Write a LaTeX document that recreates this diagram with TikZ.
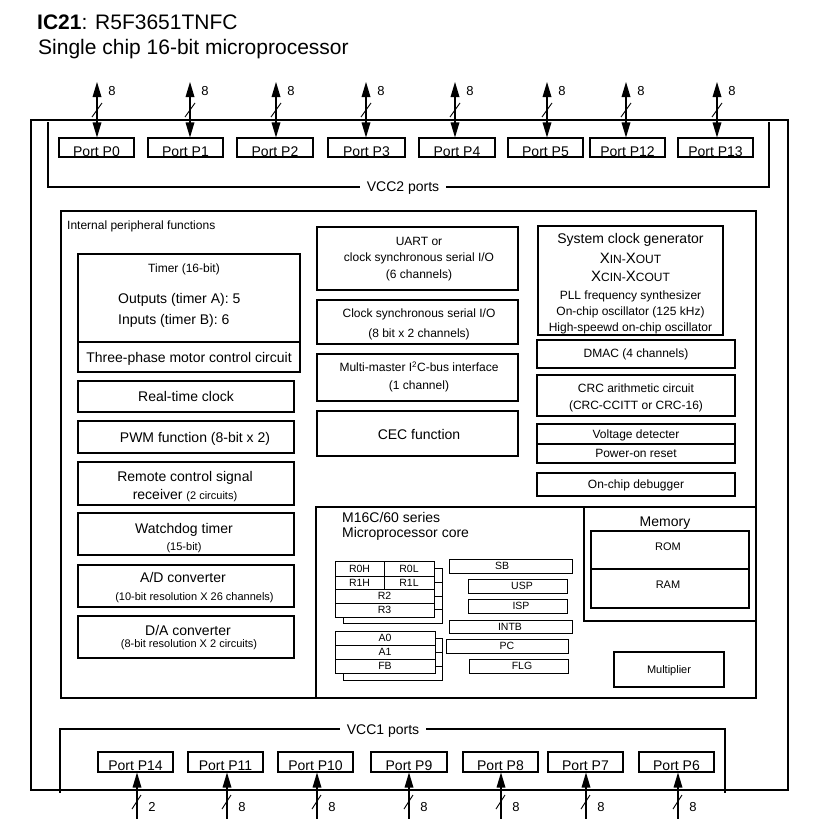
\documentclass[tikz,border=0pt]{standalone}
\usepackage{fontspec}
\setmainfont{Liberation Sans}
\newcommand{\bx}[7][]{\node[box,minimum width={(#5)-(#3)},minimum height={(#6)-(#4)},#1] (#2) at ({((#3)+(#5))/2},{((#4)+(#6))/2}) {#7};}
\newcommand{\smcx}[1]{{\fontsize{12}{14}\selectfont #1}}
\begin{document}
\begin{tikzpicture}[x=1pt,y=-1pt,
  box/.style={draw,line width=1.1pt,inner sep=0pt,fill=white},
  rbox/.style={draw,line width=0.9pt,inner sep=0pt,fill=white},
  frame/.style={line width=1.1pt},
  t14/.style={font=\fontsize{14}{17}\selectfont,inner sep=0pt,text height=10pt,text depth=0pt},
  t13/.style={font=\fontsize{13}{16}\selectfont,inner sep=0pt,text height=9.3pt,text depth=0pt},
  t12/.style={font=\fontsize{12}{15}\selectfont,inner sep=0pt,text height=8.6pt,text depth=0pt},
  t11/.style={font=\fontsize{11}{13}\selectfont,inner sep=0pt,text height=7.9pt,text depth=0pt},
  t10/.style={font=\fontsize{10.5}{12}\selectfont,inner sep=0pt,text height=7.5pt,text depth=0pt},
  shaft/.style={line width=2pt},
  head/.style={fill=black},
  slash/.style={line width=0.9pt}]
\useasboundingbox (0,0) rectangle (828,819);
\fill[white] (0,0) rectangle (828,819);

% title
\node[anchor=base west,inner sep=0pt,font=\fontsize{21}{25}\selectfont] (title) at (37,29) {\textbf{IC21}: R5F3651TNFC};
\node[anchor=base west,inner sep=0pt,font=\fontsize{21}{25}\selectfont] (subtitle) at (38,54.5) {Single chip 16-bit microprocessor};

% outer frame
\draw[line width=2.5pt] (31,120) rectangle (788,790);

% VCC2 frame
\draw[frame] (48,122) -- (48,187) -- (769,187) -- (769,122);
\node[t14,fill=white,inner xsep=7pt] (vcc2) at (403,186.5) {VCC2 ports};

% VCC1 frame
\draw[frame] (60,793) -- (60,729) -- (725,729) -- (725,793);
\node[t14,fill=white,inner xsep=7pt] (vcc1) at (383,729) {VCC1 ports};

% top ports
\foreach \pn/\pa/\pb/\px in {0/59/134/97, 1/148/223/190, 2/237/313/276, 3/328/405/366, 4/419/495/455, 5/508/583/547, 12/590/665/626, 13/678/753/717}{
  \bx{tp\pn}{\pa}{138}{\pb}{157}{}
  \node[t14] (tpt\pn) at ({(\pa+\pb)/2},151.3) {Port P\pn};
  \coordinate (ta\pn) at (\px,82);
  \draw[shaft,shorten <=8pt,shorten >=8pt] (ta\pn) -- (ta\pn |- tp\pn.north);
  \fill[head] (ta\pn) -- ++(-4.5,15) -- ++(9,0) -- cycle;
  \fill[head] (ta\pn |- tp\pn.north) -- ++(-4.5,-15) -- ++(9,0) -- cycle;
  \draw[slash] ({\px-5},117) -- ({\px+5},103);
  \node[t13] (tl\pn) at ({\px+15},91) {8};
}

% bottom ports
\foreach \pn/\pa/\pb/\px/\pw in {14/98/173/137/2, 11/188/263/227/8, 10/278/353/317/8, 9/371/447/409/8, 8/463/538/501/8, 7/548/623/586/8, 6/639/714/678/8}{
  \bx{bp\pn}{\pa}{752}{\pb}{772}{}
  \node[t14] (bpt\pn) at ({(\pa+\pb)/2},765) {Port P\pn};
  \coordinate (ba\pn) at (\px,819);
  \draw[shaft,shorten >=8pt] (ba\pn) -- (ba\pn |- bp\pn.south);
  \fill[head] (ba\pn |- bp\pn.south) -- ++(-4.5,15) -- ++(9,0) -- cycle;
  \draw[slash] ({\px-5},809) -- ({\px+4},795);
  \node[t13] (bl\pn) at ({\px+15},806.7) {\pw};
}

% internal peripheral frame
\draw[frame] (61,211) rectangle (756,698);
\node[t12,anchor=west] (ipf) at (67,225.5) {Internal peripheral functions};

% left column
\bx{timer}{78}{254}{300}{372}{}
\draw[frame] (78,342) -- (300,342);
\node[t12] (timert) at (184,268.5) {Timer (16-bit)};
\node[t14,anchor=west] (outt) at (118,298) {Outputs (timer A): 5};
\node[t14,anchor=west] (inpt) at (118,319) {Inputs (timer B): 6};
\node[t14] (three) at (189,357) {Three-phase motor control circuit};

\bx{rtc}{78}{381}{294}{412}{}
\node[t14] (rtct) at (186,396.5) {Real-time clock};
\bx{pwm}{78}{421}{294}{453}{}
\node[t14] (pwmt) at (195,437) {PWM function (8-bit x 2)};
\bx{remote}{78}{462}{294}{505}{}
\node[t14] (remt1) at (185,476) {Remote control signal};
\node[t14] (remt2) at (185,494) {receiver {\fontsize{11}{13}\selectfont (2 circuits)}};
\bx{wdt}{78}{513}{294}{555}{}
\node[t14] (wdt1) at (184,528) {Watchdog timer};
\node[t11] (wdt2) at (184,546.5) {(15-bit)};
\bx{adc}{78}{565}{294}{607}{}
\node[t14] (adc1) at (183,577) {A/D converter};
\node[t11] (adc2) at (194.5,597) {(10-bit resolution X 26 channels)};
\bx{dac}{78}{616}{294}{658}{}
\node[t14] (dac1) at (188,630) {D/A converter};
\node[t11] (dac2) at (189,644) {(8-bit resolution X 2 circuits)};

% middle column
\bx{uart}{317}{227}{518}{290}{}
\node[t12] (uart1) at (419,241.5) {UART or};
\node[t12] (uart2) at (419,257) {clock synchronous serial I/O};
\node[t12] (uart3) at (419,274.5) {(6 channels)};
\bx{csio}{317}{300}{518}{344}{}
\node[t12] (csio1) at (419,313) {Clock synchronous serial I/O};
\node[t12] (csio2) at (419,333) {(8 bit x 2 channels)};
\bx{iic}{317}{354}{518}{401}{}
\node[t12] (iic1) at (419,367.5) {Multi-master I\textsuperscript{2}C-bus interface};
\node[t12] (iic2) at (419,385) {(1 channel)};
\bx{cec}{317}{411}{518}{456}{}
\node[t14] (cect) at (419,434) {CEC function};

% right column
\bx{sysclk}{538}{226}{723}{335}{}
\node[t14] (sc1) at (630.5,238.5) {System clock generator};
\node[t12] (sc2) at (630.5,259) {{\fontsize{15}{17}\selectfont X}\smcx{IN}-{\fontsize{15}{17}\selectfont X}\smcx{OUT}};
\node[t12] (sc3) at (630.5,277) {{\fontsize{15}{17}\selectfont X}\smcx{CIN}-{\fontsize{15}{17}\selectfont X}\smcx{COUT}};
\node[t12] (sc4) at (630.5,295) {PLL frequency synthesizer};
\node[t12] (sc5) at (630.5,311) {On-chip oscillator (125 kHz)};
\node[t12] (sc6) at (630.5,327) {High-speewd on-chip oscillator};
\bx{dmac}{537}{340}{735}{368}{}
\node[t12] (dmact) at (636,353.5) {DMAC (4 channels)};
\bx{crc}{537}{375}{735}{416}{}
\node[t12] (crc1) at (636,388.5) {CRC arithmetic circuit};
\node[t12] (crc2) at (636,405.5) {(CRC-CCITT or CRC-16)};
\bx{vdet}{537}{424}{735}{463}{}
\draw[frame] (537,444) -- (735,444);
\node[t12] (vdet1) at (636,434.5) {Voltage detecter};
\node[t12] (vdet2) at (636,453.5) {Power-on reset};
\bx{ocd}{537}{473}{735}{496}{}
\node[t12] (ocdt) at (636,484.5) {On-chip debugger};

% processor core
\draw[frame] (316,698) -- (316,507) -- (756,507);
\node[t14,anchor=west] (core1) at (342,517) {M16C/60 series};
\node[t14,anchor=west] (core2) at (342,532) {Microprocessor core};

% memory
\bx{mem}{584}{507}{756}{621}{}
\node[t14] (memt) at (665,521) {Memory};
\bx{romram}{591}{531}{749}{608}{}
\draw[frame] (591,569) -- (749,569);
\node[t11] (rom) at (668,547) {ROM};
\node[t11] (ram) at (668,585) {RAM};
\bx{mult}{614}{652}{724}{687}{}
\node[t11] (multt) at (669,669.5) {Multiplier};

% register bank 1
\draw[line width=0.9pt] (343,568) rectangle (442,623);
\foreach \yy in {582,596,609} \draw[line width=0.9pt] (434,\yy) -- (442,\yy);
\bx[rbox]{regs}{335}{561}{434}{617}{}
\draw[line width=0.9pt] (335,576) -- (434,576);
\draw[line width=0.9pt] (335,589) -- (434,589);
\draw[line width=0.9pt] (335,603) -- (434,603);
\draw[line width=0.9pt] (384,561) -- (384,589);
\node[t10] (r0h) at (359.5,568.5) {R0H};
\node[t10] (r0l) at (409,568.5) {R0L};
\node[t10] (r1h) at (359.5,582.5) {R1H};
\node[t10] (r1l) at (409,582.5) {R1L};
\node[t10] (r2) at (384.5,596) {R2};
\node[t10] (r3) at (384.5,610) {R3};

% register bank 2
\draw[line width=0.9pt] (343,638) rectangle (442,680);
\foreach \yy in {652,666} \draw[line width=0.9pt] (435,\yy) -- (442,\yy);
\bx[rbox]{aregs}{335}{631}{435}{673}{}
\draw[line width=0.9pt] (335,645) -- (435,645);
\draw[line width=0.9pt] (335,659) -- (435,659);
\node[t10] (a0) at (385,638) {A0};
\node[t10] (a1) at (385,652) {A1};
\node[t10] (fb) at (385,666) {FB};

% dedicated registers
\bx[rbox]{sb}{449}{559}{572}{573}{}
\node[t10] (sbt) at (502,566) {SB};
\bx[rbox]{usp}{468}{579}{567}{593}{}
\node[t10] (uspt) at (522,586) {USP};
\bx[rbox]{isp}{468}{599}{567}{613}{}
\node[t10] (ispt) at (521,606) {ISP};
\bx[rbox]{intb}{449}{620}{572}{633}{}
\node[t10] (intbt) at (510,626.5) {INTB};
\bx[rbox]{pc}{446}{639}{568}{653}{}
\node[t10] (pct) at (507,646) {PC};
\bx[rbox]{flg}{469}{659}{568}{673}{}
\node[t10] (flgt) at (522,666) {FLG};
\end{tikzpicture}
\end{document}
